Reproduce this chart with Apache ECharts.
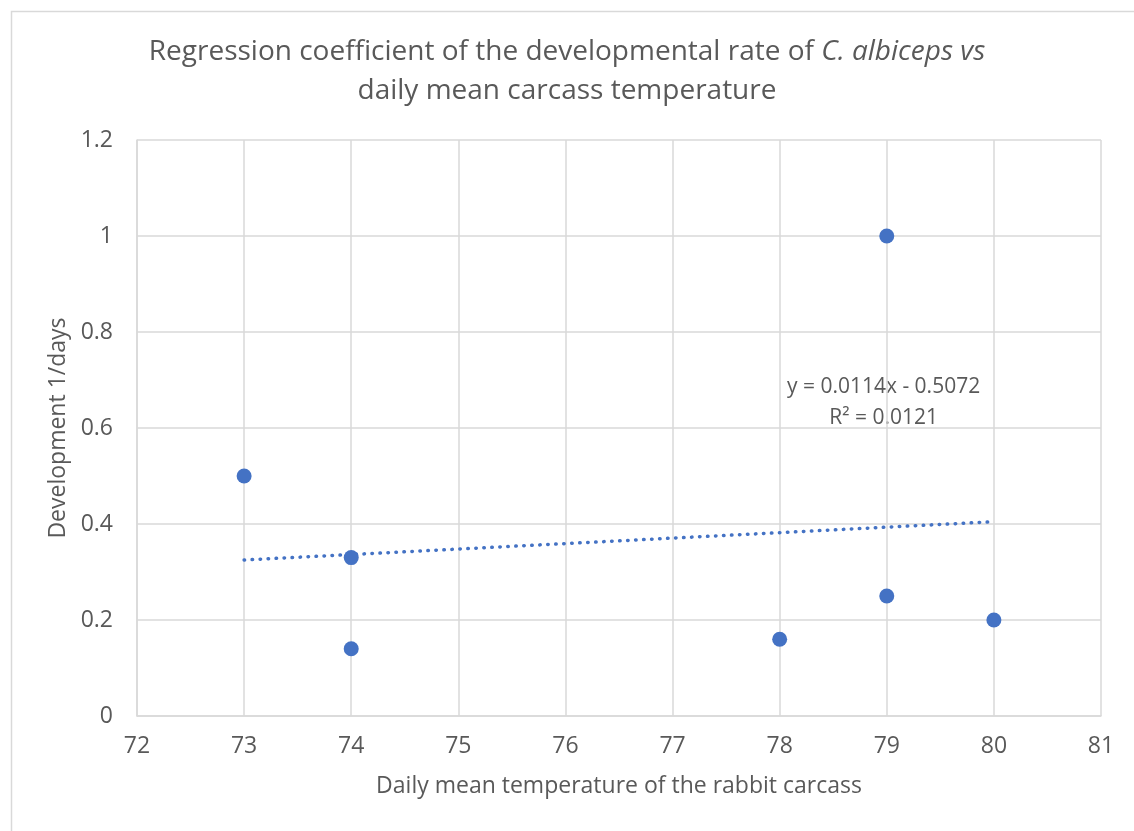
<!DOCTYPE html>
<html><head><meta charset="utf-8">
<script src="https://cdn.jsdelivr.net/npm/echarts@6/dist/echarts.min.js"></script>
<style>html,body{margin:0;padding:0;background:#fff}#c{width:1134px;height:831px}</style>
</head><body><div id="c"></div>
<script>
const temps = [73, 74, 74, 78, 79, 79, 80];
const rates = [0.5, 0.33, 0.14, 0.16, 1.0, 0.25, 0.2];
const trendSlope = 0.0114;
const trendIntercept = -0.5072;
const trendRange = [73, 80];
const xTicks = [72, 81, 1];
const yTicks = [0, 1.2, 0.2];
const equationText = ['y = 0.0114x - 0.5072', 'R² = 0.0121'];

const FONT = '"Open Sans", sans-serif';
const TXT = '#595959';
const BLUE = '#4472C4';

const chart = echarts.init(document.getElementById('c'));
chart.setOption({
  animation: false,
  backgroundColor: '#fff',
  title: {
    text: '{n|Regression coefficient of the developmental rate of }{i|C. albiceps vs}\n{n|daily mean carcass temperature}',
    left: 'center', top: 28,
    textStyle: {
      fontWeight: 'normal',
      rich: {
        n: {fontFamily: FONT, fontSize: 28, fontWeight: 'normal', color: TXT, lineHeight: 39},
        i: {fontFamily: FONT, fontSize: 28, fontWeight: 'normal', color: TXT, fontStyle: 'italic', lineHeight: 39}
      }
    }
  },
  grid: {left: 137, right: 33, top: 140, bottom: 115},
  xAxis: {
    type: 'value', min: xTicks[0], max: xTicks[1], interval: xTicks[2],
    name: 'Daily mean temperature of the rabbit carcass',
    nameLocation: 'middle', nameGap: 59,
    nameTextStyle: {fontFamily: FONT, fontSize: 23, color: TXT},
    axisLine: {show: true, lineStyle: {color: '#d9d9d9', width: 1.5}},
    axisTick: {show: false},
    axisLabel: {fontFamily: FONT, fontSize: 23, color: TXT, margin: 19},
    splitLine: {show: true, lineStyle: {color: '#d9d9d9', width: 1.5}}
  },
  yAxis: {
    type: 'value', min: yTicks[0], max: yTicks[1], interval: yTicks[2],
    name: 'Development 1/days',
    nameLocation: 'middle', nameGap: 66,
    nameTextStyle: {fontFamily: FONT, fontSize: 23, color: TXT},
    axisLine: {show: true, lineStyle: {color: '#d9d9d9', width: 1.5}},
    axisTick: {show: false},
    axisLabel: {fontFamily: FONT, fontSize: 23, color: TXT, margin: 24,
      formatter: v => String(Math.round(v * 10) / 10)},
    splitLine: {show: true, lineStyle: {color: '#d9d9d9', width: 1.5}}
  },
  graphic: [
    {type: 'rect', left: 9, top: 9, shape: {width: 1200, height: 900},
      style: {fill: 'none', stroke: '#d9d9d9', lineWidth: 1.5}, silent: true, z: -1}
  ],
  series: [
    {
      type: 'line',
      data: trendRange.map(x => [x, trendSlope * x + trendIntercept]),
      symbol: 'none',
      lineStyle: {color: BLUE, width: 3.5, type: [0.5, 7.5], cap: 'round'},
      z: 2
    },
    {
      type: 'scatter',
      data: temps.map((t, i) => [t, rates[i]]),
      symbolSize: 15,
      itemStyle: {color: BLUE, opacity: 1},
      z: 3
    }
  ]
});
const p = chart.convertToPixel({gridIndex: 0}, [78.97, 0.654]);
chart.setOption({graphic: [
  {}, {type: 'text', x: p[0], y: p[1],
    style: {text: equationText.join('\n'), fontFamily: FONT, fontSize: 21, fill: TXT,
      align: 'center', verticalAlign: 'middle', lineHeight: 31}}
]});
</script></body></html>
